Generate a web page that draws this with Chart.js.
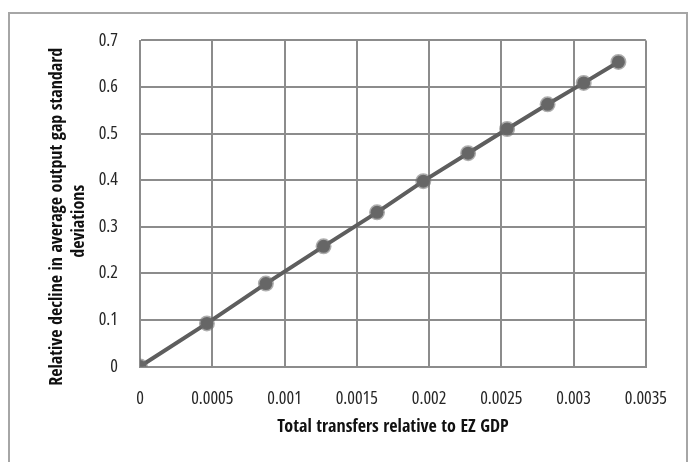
<!DOCTYPE html>
<html>
<head>
<meta charset="utf-8">
<script src="https://cdn.jsdelivr.net/npm/chart.js@4"></script>
<style>
  html, body { margin: 0; padding: 0; background: #fff; }
  #wrap { position: relative; width: 689px; height: 462px; overflow: hidden; }
  #frame { position: absolute; left: 8px; top: 12px; width: 680px; height: 470px; border: 2px solid #a6a6a6; box-sizing: border-box; }
  canvas { position: absolute; left: 0; top: 0; }
</style>
</head>
<body>
<div id="wrap">
  <div id="frame"></div>
  <canvas id="c" width="689" height="462"></canvas>
</div>
<script>
const xValues = [0, 0.000463, 0.000871, 0.00127, 0.00164, 0.00196, 0.00227, 0.00254, 0.00282, 0.00307, 0.00331];
const yValues = [0, 0.0925, 0.178, 0.258, 0.331, 0.398, 0.458, 0.51, 0.563, 0.609, 0.654];
const xTickLabels = ['0', '0.0005', '0.001', '0.0015', '0.002', '0.0025', '0.003', '0.0035'];
const yTickLabels = ['0', '0.1', '0.2', '0.3', '0.4', '0.5', '0.6', '0.7'];
const xTitle = 'Total transfers relative to EZ GDP';
const yTitle = ['Relative decline in average output gap standard', 'deviations'];

const TICK_FONT = { family: "'Open Sans'", size: 18, weight: 'condensed' };
const Y_TITLE_FONT = { family: "'Open Sans Condensed', 'Open Sans'", size: 18, weight: 'condensed bold', lineHeight: 1.22 };
const X_TITLE_FONT = { family: "'Open Sans Condensed', 'Open Sans'", size: 18, weight: 'condensed bold', lineHeight: 1.22 };
const points = xValues.map((x, i) => ({ x: x, y: yValues[i] }));

new Chart(document.getElementById('c'), {
  type: 'scatter',
  data: {
    datasets: [{
      data: points,
      showLine: true,
      borderColor: '#5e5e5e',
      borderWidth: 4,
      pointStyle: 'circle',
      pointRadius: 6.5,
      pointBackgroundColor: '#666666',
      pointBorderColor: 'rgba(105,105,105,0.55)',
      pointBorderWidth: 3
    }]
  },
  options: {
    responsive: false,
    animation: false,
    plugins: { legend: { display: false }, tooltip: { enabled: false } },
    layout: { padding: { left: 42, top: 40.5, right: 34.5, bottom: 0 } },
    scales: {
      x: {
        type: 'linear',
        min: 0, max: 0.0035,
        afterFit: s => { s.height = 95.5; },
        afterBuildTicks: s => { s.ticks = xTickLabels.map((l, i) => ({ value: i * 0.0005 })); },
        ticks: {
          callback: (v, i) => xTickLabels[i],
          color: '#262626', font: TICK_FONT, padding: 22, maxRotation: 0, autoSkip: false
        },
        grid: { color: '#8c8c8c', lineWidth: 2, drawTicks: false },
        border: { color: '#8c8c8c', width: 2 },
        title: { display: true, text: xTitle, color: '#111', font: X_TITLE_FONT, padding: { top: 0, bottom: 24 } }
      },
      y: {
        type: 'linear',
        min: 0, max: 0.7,
        afterFit: s => { s.width = 98; },
        afterBuildTicks: s => { s.ticks = yTickLabels.map((l, i) => ({ value: i * 0.1 })); },
        ticks: {
          callback: (v, i) => yTickLabels[i],
          color: '#262626', font: TICK_FONT, padding: 22, autoSkip: false
        },
        grid: { color: '#8c8c8c', lineWidth: 2, drawTicks: false },
        border: { color: '#8c8c8c', width: 2 },
        title: {
          display: true,
          text: [yTitle[0] + '      ', yTitle[1] + '        '],
          color: '#111', font: Y_TITLE_FONT, padding: { top: 4, bottom: 0 }
        }
      }
    }
  }
});
</script>
</body>
</html>
